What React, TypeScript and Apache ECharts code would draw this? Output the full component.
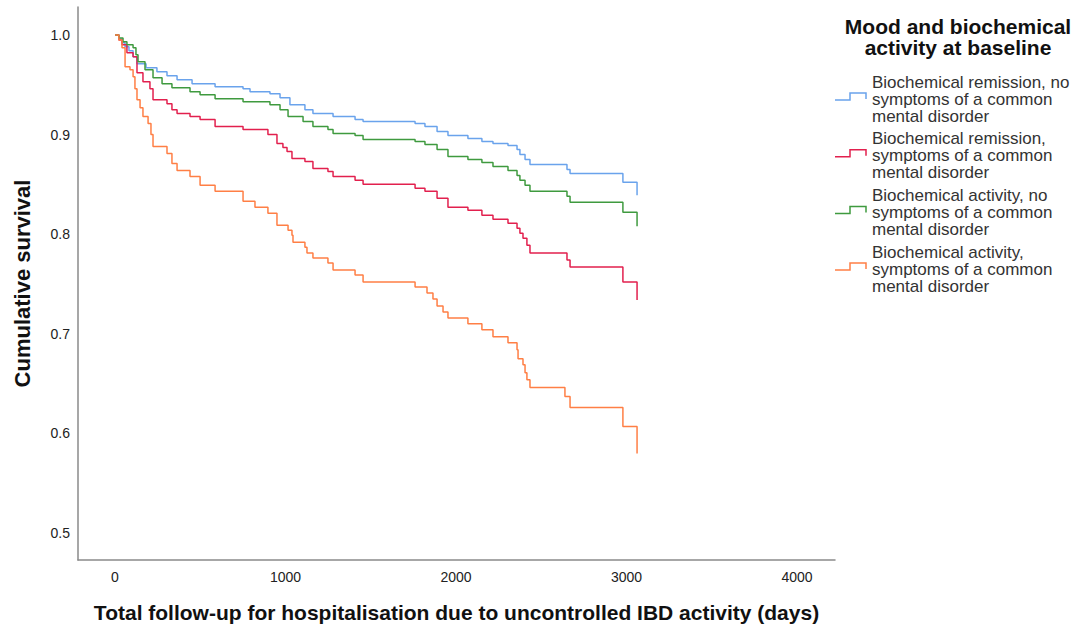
import React, { useEffect, useRef } from "react";
import * as echarts from "echarts";

// ---- data ----
const seriesNames = [
  "Biochemical remission, no symptoms of a common mental disorder",
  "Biochemical remission, symptoms of a common mental disorder",
  "Biochemical activity, no symptoms of a common mental disorder",
  "Biochemical activity, symptoms of a common mental disorder",
];
const legendLabels = [
  "Biochemical remission, no\nsymptoms of a common\nmental disorder",
  "Biochemical remission,\nsymptoms of a common\nmental disorder",
  "Biochemical activity, no\nsymptoms of a common\nmental disorder",
  "Biochemical activity,\nsymptoms of a common\nmental disorder",
];
const colors = ["#6aa3ec", "#e2204e", "#3f9a3f", "#ff7f45"];

const remNoTimes = [0, 23, 41, 59, 82, 106, 129, 182, 246, 305, 364, 452, 587, 751, 792, 909, 968, 1026, 1114, 1161, 1279, 1408, 1455, 1760, 1818, 1889, 1953, 2070, 2152, 2217, 2305, 2358, 2375, 2405, 2434, 2651, 2669, 2979, 3062];
const remNoSurv = [1.0, 0.996, 0.992, 0.988, 0.984, 0.978, 0.971, 0.967, 0.963, 0.959, 0.955, 0.951, 0.948, 0.946, 0.943, 0.941, 0.937, 0.93, 0.925, 0.921, 0.918, 0.915, 0.913, 0.911, 0.908, 0.903, 0.899, 0.896, 0.893, 0.891, 0.889, 0.885, 0.88, 0.875, 0.87, 0.865, 0.861, 0.852, 0.839];

const remSymTimes = [0, 23, 41, 70, 106, 129, 164, 205, 223, 305, 334, 364, 440, 499, 587, 751, 897, 950, 985, 1009, 1038, 1114, 1161, 1249, 1279, 1408, 1455, 1760, 1818, 1889, 1953, 2070, 2152, 2217, 2305, 2358, 2375, 2393, 2416, 2434, 2651, 2669, 2979, 3062];
const remSymSurv = [1.0, 0.995, 0.99, 0.982, 0.978, 0.962, 0.953, 0.946, 0.935, 0.931, 0.925, 0.921, 0.918, 0.915, 0.908, 0.905, 0.9, 0.891, 0.887, 0.883, 0.876, 0.873, 0.866, 0.863, 0.858, 0.854, 0.85, 0.846, 0.843, 0.836, 0.827, 0.824, 0.819, 0.815, 0.811, 0.806, 0.801, 0.796, 0.789, 0.781, 0.774, 0.767, 0.752, 0.734];

const actNoTimes = [0, 23, 47, 70, 106, 123, 135, 176, 223, 276, 334, 440, 499, 587, 751, 909, 968, 1015, 1103, 1161, 1249, 1279, 1408, 1455, 1760, 1818, 1889, 1953, 2070, 2152, 2217, 2305, 2358, 2375, 2405, 2434, 2651, 2669, 2979, 3062];
const actNoSurv = [1.0, 0.997, 0.993, 0.99, 0.987, 0.98, 0.973, 0.965, 0.957, 0.951, 0.947, 0.943, 0.94, 0.936, 0.933, 0.93, 0.925, 0.918, 0.913, 0.908, 0.905, 0.901, 0.899, 0.895, 0.893, 0.89, 0.885, 0.878, 0.875, 0.872, 0.868, 0.864, 0.859, 0.854, 0.849, 0.843, 0.838, 0.832, 0.822, 0.808];

const actSymTimes = [0, 23, 41, 59, 88, 106, 117, 129, 147, 164, 194, 211, 223, 305, 334, 364, 440, 499, 587, 751, 821, 897, 950, 1015, 1038, 1044, 1114, 1126, 1161, 1249, 1279, 1408, 1455, 1760, 1830, 1865, 1889, 1924, 1953, 2070, 2152, 2217, 2305, 2358, 2364, 2393, 2405, 2416, 2434, 2639, 2669, 2979, 3062];
const actSymSurv = [1.0, 0.995, 0.987, 0.968, 0.965, 0.958, 0.946, 0.935, 0.927, 0.918, 0.911, 0.9, 0.888, 0.881, 0.871, 0.864, 0.858, 0.849, 0.843, 0.833, 0.827, 0.821, 0.809, 0.804, 0.799, 0.792, 0.787, 0.781, 0.776, 0.771, 0.764, 0.759, 0.752, 0.747, 0.741, 0.735, 0.728, 0.722, 0.716, 0.71, 0.704, 0.697, 0.691, 0.684, 0.675, 0.669, 0.661, 0.654, 0.646, 0.637, 0.626, 0.607, 0.58];

const xTicks = [0, 1000, 2000, 3000, 4000];
const yTicks = [0.5, 0.6, 0.7, 0.8, 0.9, 1.0];

const allTimes = [remNoTimes, remSymTimes, actNoTimes, actSymTimes];
const allSurv = [remNoSurv, remSymSurv, actNoSurv, actSymSurv];

const FONT = "'Liberation Sans', Arial, sans-serif";

export default function App() {
  const ref = useRef<HTMLDivElement>(null);
  useEffect(() => {
    document.body.style.margin = "0";
    if (!ref.current) return;
    const chart = echarts.init(ref.current, undefined, { renderer: "svg" });

    const series = allTimes.map((times, i) => ({
      name: seriesNames[i],
      type: "line",
      step: "end",
      showSymbol: false,
      symbol: "none",
      data: times.map((t, j) => [t, allSurv[i][j]]),
      lineStyle: { color: colors[i], width: 1.5 },
      itemStyle: { color: colors[i] },
    }));

    const legendGraphics: any[] = [];
    legendLabels.forEach((label, i) => {
      const baseY = 82 + i * 56.7;
      legendGraphics.push({
        type: "polyline",
        shape: {
          points: [
            [835, baseY + 18],
            [850, baseY + 18],
            [850, baseY + 11],
            [866, baseY + 11],
            [866, baseY + 17],
          ],
        },
        style: { stroke: colors[i], lineWidth: 1.5, fill: "none" },
      });
      legendGraphics.push({
        type: "text",
        x: 872,
        y: baseY - 8.5,
        style: {
          text: label,
          fontFamily: FONT,
          fontSize: 17,
          lineHeight: 17,
          fill: "#333",
          textAlign: "left",
          textVerticalAlign: "top",
        },
      });
    });

    chart.setOption({
      animation: false,
      backgroundColor: "#fff",
      grid: { left: 78, right: 250, top: 7, bottom: 71 },
      xAxis: {
        type: "value",
        min: -217,
        max: 4223,
        name: "Total follow-up for hospitalisation due to uncontrolled IBD activity (days)",
        nameLocation: "middle",
        nameGap: 42,
        nameTextStyle: { fontFamily: FONT, fontSize: 21, fontWeight: "bold", color: "#111" },
        axisLine: { show: true, onZero: false, lineStyle: { color: "#8a8a8a", width: 1.5 } },
        axisTick: { show: false },
        splitLine: { show: false },
        axisLabel: {
          customValues: xTicks,
          margin: 10,
          fontFamily: FONT,
          fontSize: 14,
          color: "#222",
          formatter: (v: number) => String(Math.round(v)),
        },
      },
      yAxis: {
        type: "value",
        min: 0.473,
        max: 1.028,
        name: "Cumulative survival",
        nameLocation: "middle",
        nameGap: 45,
        nameTextStyle: { fontFamily: FONT, fontSize: 22, fontWeight: "bold", color: "#111" },
        axisLine: { show: true, onZero: false, lineStyle: { color: "#8a8a8a", width: 1.5 } },
        axisTick: { show: false },
        splitLine: { show: false },
        axisLabel: {
          customValues: yTicks,
          margin: 8,
          fontFamily: FONT,
          fontSize: 14,
          color: "#222",
          formatter: (v: number) => v.toFixed(1),
        },
      },
      series,
      graphic: [
        {
          type: "text",
          x: 958,
          y: 16,
          style: {
            text: "Mood and biochemical\nactivity at baseline",
            fontFamily: FONT,
            fontSize: 21,
            fontWeight: "bold",
            lineHeight: 21,
            fill: "#111",
            textAlign: "center",
            textVerticalAlign: "top",
          },
        },
        ...legendGraphics,
      ],
    });
    return () => chart.dispose();
  }, []);
  return <div ref={ref} style={{ width: 1085, height: 631 }} />;
}
